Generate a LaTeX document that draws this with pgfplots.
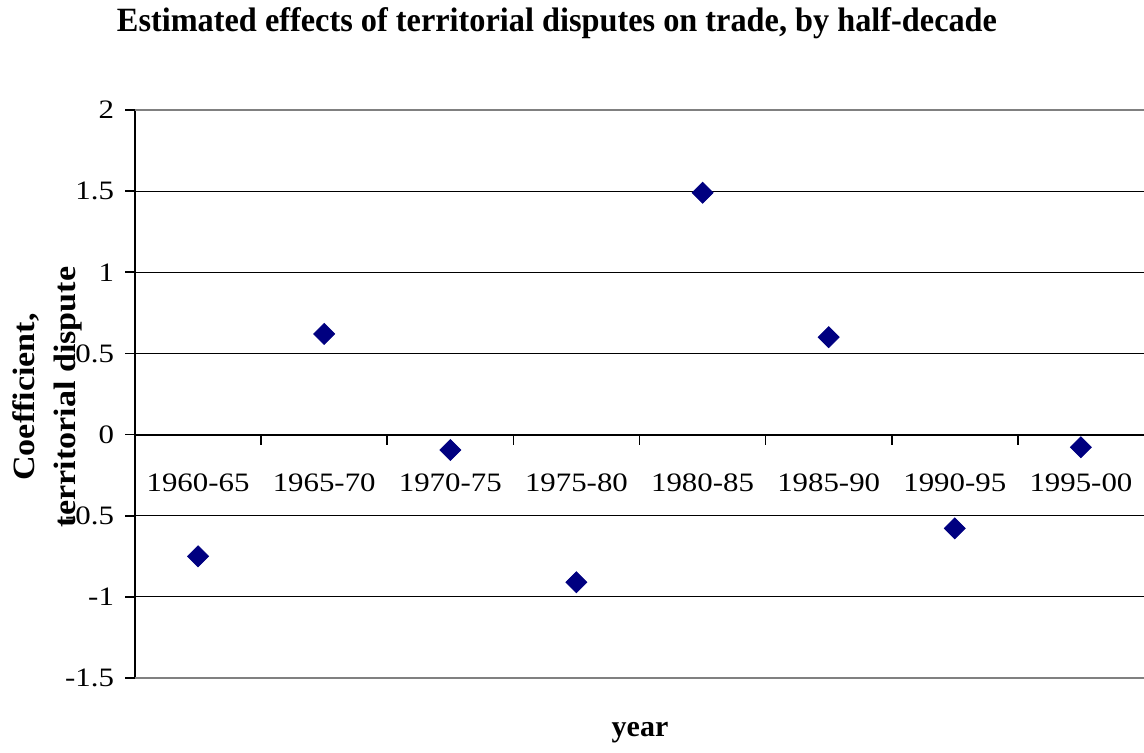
\documentclass[border=0pt]{standalone}
\usepackage{pgfplots}
\pgfplotsset{compat=1.18}
\usepackage{fontspec}
\setmainfont{Liberation Serif}
\newfontfamily\tickfont[FakeStretch=1.16]{Liberation Serif}
\newfontfamily\titlefont[FakeStretch=0.95]{Liberation Serif}
\newfontfamily\ylabfont[FakeStretch=1.1]{Liberation Serif}
\definecolor{navy}{RGB}{0,0,128}
\begin{document}
\begin{tikzpicture}
\useasboundingbox (-67.5pt,-37.5pt) rectangle (504.5pt,339pt);
\begin{axis}[
  at={(0,0)}, anchor=south west,
  scale only axis,
  width=504.5pt, height=284pt,
  xmin=-0.5, xmax=7.5,
  ymin=-1.5, ymax=2,
  axis x line=middle,
  axis y line=left,
  x axis line style={-, line width=1pt},
  y axis line style={-, line width=1pt},
  tick align=outside,
  major tick length=5pt,
  tick style={black, line width=0.8pt},
  ytick={-1.5,-1,...,2},
  yticklabels={-1.5,-1,-0.5,0,0.5,1,1.5,2},
  yticklabel style={xshift=-2pt},
  xtick={0.5,1.5,...,6.5},
  xticklabels={},
  extra x ticks={0,1,2,3,4,5,6,7},
  extra x tick labels={1960-65,1965-70,1970-75,1975-80,1980-85,1985-90,1990-95,1995-00},
  extra x tick style={major tick length=0pt, grid=none, tick label style={anchor=north, yshift=-16pt}},
  ymajorgrids=true,
  grid style={black, line width=0.6pt},
  ticklabel style={font=\tickfont\fontsize{13.3}{15}\selectfont},
  /pgf/number format/assume math mode=true,
  clip=false,
]
\draw[gray, line width=1pt] (axis cs:-0.5,2) -- (axis cs:7.5,2);
\draw[gray, line width=1pt] (axis cs:-0.5,-1.5) -- (axis cs:7.5,-1.5);
\draw[black, line width=1pt] (axis cs:-0.5,0) -- (axis cs:7.5,0);
\addplot[only marks, mark=square*, mark size=3.7pt, mark options={rotate=45, fill=navy, draw=navy}]
  coordinates {(0,-0.75) (1,0.62) (2,-0.095) (3,-0.91) (4,1.49) (5,0.60) (6,-0.578) (7,-0.078)};
\end{axis}
\node[anchor=base, font=\titlefont\bfseries\fontsize{17}{20}\selectfont] at (211pt,323pt) {Estimated effects of territorial disputes on trade, by half-decade};
\node[anchor=base, font=\bfseries\fontsize{15}{18}\selectfont] at (252.5pt,-29.3pt) {year};
\node[rotate=90, align=center, font=\ylabfont\bfseries\fontsize{15.5}{17.5}\selectfont] at (-44pt,140.5pt) {Coefficient,\\[3pt]territorial dispute};
\end{tikzpicture}
\end{document}
